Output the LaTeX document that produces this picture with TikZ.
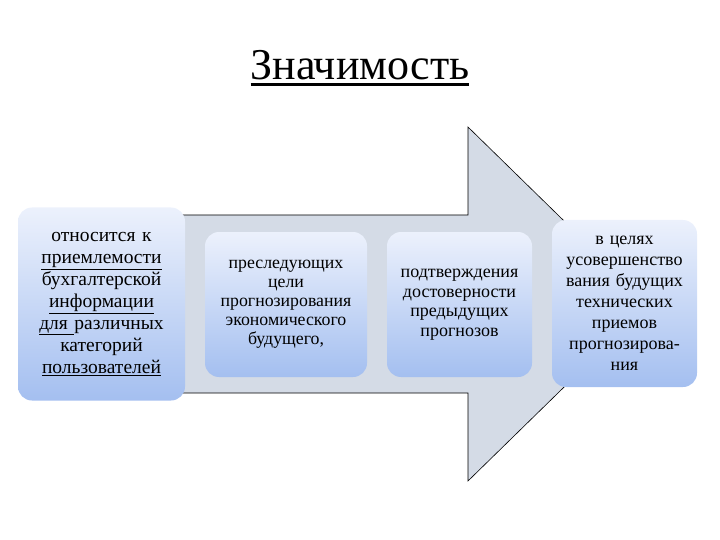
\documentclass[tikz,border=0pt]{standalone}
\usepackage{fontspec}
\newfontfamily\rufont{Liberation Serif}
\usetikzlibrary{positioning,calc}
\definecolor{arrowfill}{RGB}{212,219,230}
\definecolor{boxtop}{RGB}{236,241,252}
\definecolor{boxbot}{RGB}{164,191,240}
% heavy underline for the title
\newcommand\thickul[1]{\setbox0\hbox{#1}\rlap{\rule[-7pt]{\wd0}{2.6pt}}\box0}

\begin{document}
\begin{tikzpicture}[x=1pt,y=-1pt,
  box/.style={rounded corners=14pt,top color=boxtop,bottom color=boxbot,draw=none,
    inner sep=2pt,align=center},
  ttl/.style={font=\fontsize{44}{50}\selectfont}]
\useasboundingbox (0,0) rectangle (720,540);
% title
\node[ttl] (title) at (360,68) {\rufont\thickul{Значимость}};
% big arrow
\filldraw[fill=arrowfill,draw=black,line width=0.6pt]
  (170,215) -- (468,215) -- (468,127) -- (649,304) -- (468,481) -- (468,393) -- (170,393) -- cycle;
% boxes on the arrow
\node[box,minimum width=167,minimum height=193,text width=163,
  font=\fontsize{19.5}{22}\selectfont] (b1) at (101.5,304)
 {\rufont относится к\\ \underline{приемлемости}\\ бухгалтерской\\ \underline{информации}\\
  \underline{для\ }различных\\ категорий\\ \underline{пользователей}};
\node[box,minimum width=162,minimum height=145,text width=158,
  font=\fontsize{17.8}{19}\selectfont] (b2) at (286,304.5)
 {\rufont преследующих\\ цели\\ прогнозирования\\ экономического\\ будущего,};
\node[box,minimum width=145,minimum height=145,text width=141,
  font=\fontsize{18}{19.5}\selectfont] (b3) at (459.5,304.5)
 {\rufont подтверждения\\ достоверности\\ предыдущих\\ прогнозов};
\node[box,minimum width=145,minimum height=167,text width=141,
  font=\fontsize{18}{21}\selectfont] (b4) at (624.5,303.5)
 {\rufont в целях\\ усовершенство\\ вания будущих\\ технических\\ приемов\\ прогнозирова-\\ ния\par\vspace*{14pt}};
\end{tikzpicture}
\end{document}
